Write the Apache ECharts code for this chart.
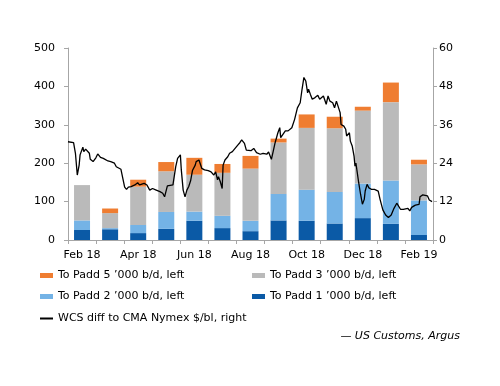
<!DOCTYPE html>
<html>
<head>
<meta charset="utf-8">
<script src="https://cdn.jsdelivr.net/npm/echarts@6/dist/echarts.min.js"></script>
<style>
html,body{margin:0;padding:0;background:#fff;}
#chart{width:500px;height:386px;}
</style>
</head>
<body>
<div id="chart"></div>
<script>
// ---- data ----
const months = ['Feb 18','Mar 18','Apr 18','May 18','Jun 18','Jul 18','Aug 18','Sep 18','Oct 18','Nov 18','Dec 18','Jan 19','Feb 19'];
const padd1 = [26, 28, 18, 29, 50, 31, 23, 51, 50, 43, 57, 42, 13];
const padd2 = [25, 3, 21, 44, 24, 32, 27, 69, 81, 82, 90, 113, 90];
const padd3 = [92, 39, 100, 106, 96, 112, 136, 134, 161, 166, 190, 204, 94];
const padd5 = [0, 12, 18, 24, 44, 23, 33, 10, 35, 30, 10, 51, 12];
const leftTicks = [0, 100, 200, 300, 400, 500];
const rightTicks = [0, 12, 24, 36, 48, 60];

const wcsDates = [
'2018-02-01','2018-02-07','2018-02-09','2018-02-11','2018-02-13','2018-02-14','2018-02-16','2018-02-17','2018-02-18','2018-02-20',
'2018-02-22','2018-02-24','2018-02-25','2018-02-28','2018-03-03','2018-03-05','2018-03-08','2018-03-11','2018-03-13','2018-03-16',
'2018-03-19','2018-03-23','2018-03-25','2018-03-30','2018-04-01','2018-04-03','2018-04-05','2018-04-07','2018-04-10','2018-04-14',
'2018-04-17','2018-04-19','2018-04-21','2018-04-24','2018-04-27','2018-04-30','2018-05-03','2018-05-07','2018-05-11','2018-05-14',
'2018-05-16','2018-05-19','2018-05-21','2018-05-25','2018-05-28','2018-05-30','2018-06-02','2018-06-03','2018-06-05','2018-06-07',
'2018-06-09','2018-06-11','2018-06-13','2018-06-15','2018-06-18','2018-06-19','2018-06-22','2018-06-25','2018-06-28','2018-07-02',
'2018-07-05','2018-07-08','2018-07-10','2018-07-12','2018-07-13','2018-07-15','2018-07-17','2018-07-18','2018-07-20','2018-07-23',
'2018-07-25','2018-07-28','2018-07-30','2018-08-03','2018-08-05','2018-08-07','2018-08-10','2018-08-12','2018-08-14','2018-08-17',
'2018-08-20','2018-08-23','2018-08-25','2018-08-27','2018-08-30','2018-09-03','2018-09-05','2018-09-08','2018-09-10','2018-09-12',
'2018-09-15','2018-09-17','2018-09-18','2018-09-20','2018-09-23','2018-09-26','2018-09-30','2018-10-03','2018-10-06','2018-10-09',
'2018-10-11','2018-10-13','2018-10-15','2018-10-17','2018-10-18','2018-10-20','2018-10-22','2018-10-25','2018-10-28','2018-10-30',
'2018-11-01','2018-11-03','2018-11-04','2018-11-06','2018-11-08','2018-11-10','2018-11-11','2018-11-13','2018-11-15','2018-11-17',
'2018-11-19','2018-11-21','2018-11-22','2018-11-25','2018-11-27','2018-11-28','2018-12-01','2018-12-02','2018-12-04','2018-12-06',
'2018-12-07','2018-12-08','2018-12-11','2018-12-13','2018-12-15','2018-12-17','2018-12-18','2018-12-20','2018-12-21','2018-12-22',
'2018-12-25','2018-12-28','2019-01-01','2019-01-03','2019-01-06','2019-01-09','2019-01-12','2019-01-15','2019-01-18','2019-01-21',
'2019-01-23','2019-01-25','2019-01-28','2019-01-30','2019-02-02','2019-02-04','2019-02-06','2019-02-08','2019-02-10','2019-02-12',
'2019-02-14','2019-02-15','2019-02-18','2019-02-20','2019-02-23','2019-02-25','2019-02-27','2019-02-28'
];
const wcsValues = [
30.7, 30.4, 27.1, 20.3, 23.4, 26.6, 27.1, 29.0, 27.6, 28.4,
28.5, 27.1, 25.2, 24.5, 25.7, 26.9, 25.8, 25.5, 25.7, 24.7,
24.5, 24.0, 22.9, 22.1, 21.9, 16.5, 15.8, 16.5, 16.7, 17.2,
17.9, 17.2, 17.2, 17.7, 17.2, 15.6, 16.1, 15.6, 15.1, 14.6,
13.5, 16.9, 17.2, 17.2, 22.9, 25.5, 26.6, 21.9, 15.6, 13.5,
15.6, 16.7, 18.5, 21.7, 23.4, 24.5, 25.0, 22.4, 21.9, 21.7,
21.3, 20.3, 21.3, 18.8, 19.8, 18.2, 16.1, 23.4, 25.0, 26.0,
27.1, 27.6, 28.1, 29.7, 30.4, 31.3, 30.2, 28.1, 28.6, 27.9,
28.6, 27.3, 27.1, 26.8, 27.1, 26.8, 27.5, 25.2, 27.8, 30.4,
33.5, 35.1, 32.0, 32.5, 34.1, 34.1, 35.1, 37.7, 41.3, 42.9,
47.1, 50.8, 49.7, 46.0, 47.1, 45.5, 44.0, 44.5, 45.2, 44.0,
43.4, 45.0, 45.5, 42.4, 45.0, 43.4, 44.0, 42.9, 41.3, 43.4,
42.9, 39.8, 36.1, 35.6, 34.6, 32.5, 33.5, 30.9, 29.4, 26.2,
23.1, 24.0, 17.9, 14.3, 11.2, 12.7, 15.3, 17.4, 17.9, 16.3,
15.8, 15.8, 15.3, 12.7, 9.4, 7.8, 7.0, 7.8, 9.9, 11.5,
10.9, 9.6, 9.6, 9.1, 9.9, 9.1, 10.2, 9.9, 10.9, 11.5,
11.1, 13.5, 14.1, 13.5, 13.8, 12.5, 12.0, 12.0
];

const names = {
  p5: 'To Padd 5 \u2019000 b/d, left',
  p3: 'To Padd 3 \u2019000 b/d, left',
  p2: 'To Padd 2 \u2019000 b/d, left',
  p1: 'To Padd 1 \u2019000 b/d, left',
  wcs: 'WCS diff to CMA Nymex $/bl, right'
};
const colors = { p1: '#0B5AA6', p2: '#74B3E6', p3: '#BABABA', p5: '#EF7D31', wcs: '#000000' };

const FONT = 'DejaVu Sans';
const chart = echarts.init(document.getElementById('chart'), null, { renderer: 'canvas' });

function legendAt(name, left, top, h) {
  return {
    data: [name], left: left, top: top, padding: 0, orient: 'horizontal',
    icon: 'rect', itemWidth: 13, itemHeight: h || 5, selectedMode: false,
    textStyle: { fontFamily: FONT, fontSize: 11, color: '#000' }
  };
}

function barSeries(key, vals) {
  return {
    name: names[key], type: 'bar', stack: 'padd', xAxisIndex: 0, yAxisIndex: 0,
    barWidth: 16, data: vals, itemStyle: { color: colors[key] }, silent: true
  };
}

const option = {
  animation: false,
  textStyle: { fontFamily: FONT },
  grid: { left: 68, right: 67, top: 48, bottom: 146, containLabel: false },
  legend: [
    legendAt(names.p5, 40, 270),
    legendAt(names.p3, 252, 270),
    legendAt(names.p2, 40, 291),
    legendAt(names.p1, 252, 291),
    legendAt(names.wcs, 40, 313, 2)
  ],
  xAxis: [
    {
      type: 'category', data: months, boundaryGap: true,
      axisLine: { lineStyle: { color: '#A6A6A6', width: 1 } },
      axisTick: { show: true, interval: 0, length: 4, lineStyle: { color: '#A6A6A6' } },
      axisLabel: { interval: 1, margin: 10, fontFamily: FONT, fontSize: 11, color: '#000' },
      splitLine: { show: false }
    },
    {
      type: 'time', show: false, min: '2018-02-01', max: '2019-03-01',
      splitLine: { show: false }
    }
  ],
  yAxis: [
    {
      type: 'value', min: leftTicks[0], max: leftTicks[leftTicks.length - 1], interval: 100, position: 'left',
      axisLine: { show: true, lineStyle: { color: '#A6A6A6' } },
      axisTick: { show: true, length: 4, lineStyle: { color: '#A6A6A6' } },
      axisLabel: { margin: 13, fontFamily: FONT, fontSize: 11, color: '#000' },
      splitLine: { show: false }
    },
    {
      type: 'value', min: rightTicks[0], max: rightTicks[rightTicks.length - 1], interval: 12, position: 'right',
      axisLine: { show: true, lineStyle: { color: '#A6A6A6' } },
      axisTick: { show: true, length: 4, lineStyle: { color: '#A6A6A6' } },
      axisLabel: { margin: 6, fontFamily: FONT, fontSize: 11, color: '#000' },
      splitLine: { show: false }
    }
  ],
  series: [
    barSeries('p1', padd1),
    barSeries('p2', padd2),
    barSeries('p3', padd3),
    barSeries('p5', padd5),
    {
      name: names.wcs, type: 'line', xAxisIndex: 1, yAxisIndex: 1,
      data: wcsDates.map((d, i) => [d, wcsValues[i]]),
      showSymbol: false, symbol: 'none', smooth: false,
      lineStyle: { color: colors.wcs, width: 1.3 }, itemStyle: { color: colors.wcs },
      z: 5, silent: true
    }
  ],
  graphic: [
    {
      type: 'text', right: 40, top: 331,
      style: { text: '\u2014 US Customs, Argus', font: 'italic 11px "DejaVu Sans"', fill: '#000' }
    }
  ]
};
chart.setOption(option);
</script>
</body>
</html>
